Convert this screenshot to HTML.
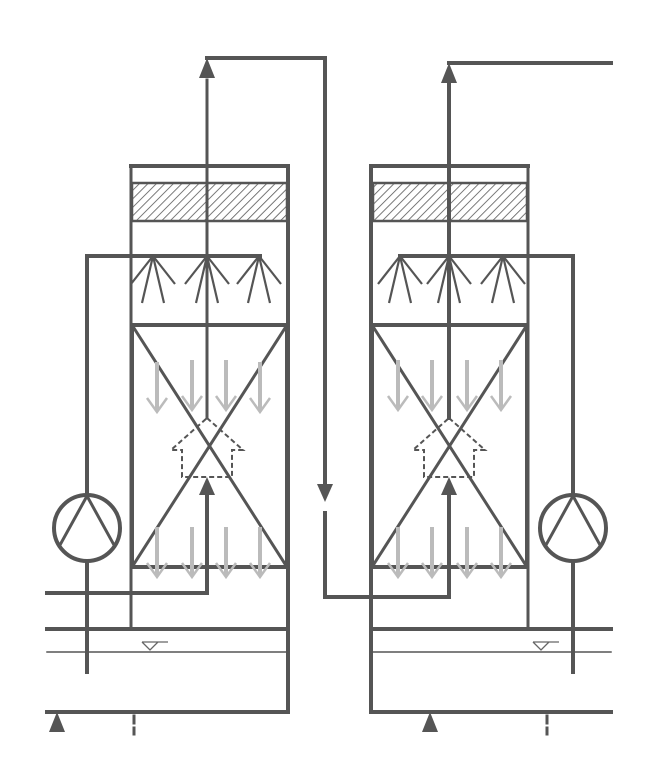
<!DOCTYPE html>
<html><head><meta charset="utf-8"><style>html,body{margin:0;padding:0;background:#fff}svg{display:block}</style></head>
<body>
<svg width="647" height="768" viewBox="0 0 647 768" xmlns="http://www.w3.org/2000/svg">
<defs>
<pattern id="h" width="6" height="6" patternUnits="userSpaceOnUse" patternTransform="rotate(45)">
<rect width="6" height="6" fill="#fff"/><line x1="0" y1="0" x2="0" y2="6" stroke="#555" stroke-width="1.6"/>
</pattern>
<g id="noz" stroke="#555" stroke-width="2.2" fill="none">
<line x1="0" y1="0" x2="-22" y2="28"/><line x1="0" y1="0" x2="-11" y2="47"/>
<line x1="0" y1="0" x2="11" y2="47"/><line x1="0" y1="0" x2="22" y2="28"/>
</g>
<g id="ga" stroke="#bbb" fill="none">
<line x1="0" y1="0" x2="0" y2="48" stroke-width="4"/>
<polyline points="-10,36 0,50 10,36" stroke-width="2.5"/>
</g>
</defs>
<g fill="none" stroke="#555" stroke-linecap="square">
<!-- LEFT TOWER -->
<rect x="132" y="183" width="155" height="38" fill="url(#h)" stroke="#555" stroke-width="2.5"/>
<line x1="131" y1="166" x2="288" y2="166" stroke-width="4"/>
<line x1="131" y1="166" x2="131" y2="629" stroke-width="3"/>
<line x1="288" y1="166" x2="288" y2="712" stroke-width="4"/>
<rect x="132" y="325" width="155" height="242" stroke-width="4"/>
<line x1="132" y1="325" x2="287" y2="567" stroke-width="3"/>
<line x1="287" y1="325" x2="132" y2="567" stroke-width="3"/>
<polyline points="87,496 87,256 260,256" stroke-width="4"/>
<line x1="87" y1="562" x2="87" y2="672" stroke-width="4"/>
<circle cx="87" cy="528" r="33" stroke-width="4"/>
<polyline points="60,545 87,496 114,545" stroke-width="3"/>
<line x1="207" y1="80" x2="207" y2="418" stroke-width="3"/>
<polyline points="207,58 325,58 325,490" stroke-width="4"/>
<polyline points="207,496 207,593 47,593" stroke-width="4"/>
<line x1="47" y1="629" x2="288" y2="629" stroke-width="4"/>
<line x1="47" y1="652" x2="288" y2="652" stroke-width="1.5"/>
<line x1="47" y1="712" x2="288" y2="712" stroke-width="4"/>
<line x1="134" y1="716" x2="134" y2="734" stroke-width="3" stroke-dasharray="7,5"/>
<!-- RIGHT TOWER -->
<rect x="373" y="183" width="154" height="38" fill="url(#h)" stroke="#555" stroke-width="2.5"/>
<line x1="371" y1="166" x2="528" y2="166" stroke-width="4"/>
<line x1="371" y1="166" x2="371" y2="712" stroke-width="4"/>
<line x1="528" y1="166" x2="528" y2="629" stroke-width="3"/>
<rect x="372" y="325" width="155" height="242" stroke-width="4"/>
<line x1="372" y1="325" x2="527" y2="567" stroke-width="3"/>
<line x1="527" y1="325" x2="372" y2="567" stroke-width="3"/>
<polyline points="400,256 573,256 573,496" stroke-width="4"/>
<line x1="573" y1="562" x2="573" y2="672" stroke-width="4"/>
<circle cx="573" cy="528" r="33" stroke-width="4"/>
<polyline points="546,545 573,496 600,545" stroke-width="3"/>
<line x1="449" y1="82" x2="449" y2="418" stroke-width="4"/>
<line x1="449" y1="63" x2="611" y2="63" stroke-width="4"/>
<polyline points="325,513 325,597 449,597 449,496" stroke-width="4"/>
<line x1="371" y1="629" x2="611" y2="629" stroke-width="4"/>
<line x1="371" y1="652" x2="611" y2="652" stroke-width="1.5"/>
<line x1="371" y1="712" x2="611" y2="712" stroke-width="4"/>
<line x1="547" y1="716" x2="547" y2="734" stroke-width="3" stroke-dasharray="7,5"/>
</g>
<!-- nozzles -->
<use href="#noz" x="153" y="256"/><use href="#noz" x="207" y="256"/><use href="#noz" x="259" y="256"/>
<use href="#noz" x="400" y="256"/><use href="#noz" x="449" y="256"/><use href="#noz" x="503" y="256"/>
<!-- grey arrows -->
<use href="#ga" x="157" y="362"/><use href="#ga" x="192" y="360"/><use href="#ga" x="226" y="360"/><use href="#ga" x="260" y="362"/>
<use href="#ga" x="157" y="527"/><use href="#ga" x="192" y="527"/><use href="#ga" x="226" y="527"/><use href="#ga" x="260" y="527"/>
<use href="#ga" x="398" y="360"/><use href="#ga" x="432" y="360"/><use href="#ga" x="467" y="360"/><use href="#ga" x="501" y="360"/>
<use href="#ga" x="398" y="527"/><use href="#ga" x="432" y="527"/><use href="#ga" x="467" y="527"/><use href="#ga" x="501" y="527"/>
<!-- dashed house arrows -->
<polygon points="207,418 243,450 232,450 232,477 182,477 182,450 171,450" fill="none" stroke="#555" stroke-width="2" stroke-dasharray="5,3"/>
<polygon points="449,418 485,450 474,450 474,477 424,477 424,450 413,450" fill="none" stroke="#555" stroke-width="2" stroke-dasharray="5,3"/>
<!-- arrowheads -->
<g fill="#555">
<polygon points="207,58 199,78 215,78"/>
<polygon points="449,63 441,83 457,83"/>
<polygon points="325,502 317,484 333,484"/>
<polygon points="207,477 199,495 215,495"/>
<polygon points="449,477 441,495 457,495"/>
<polygon points="57,712 49,732 65,732"/>
<polygon points="430,712 422,732 438,732"/>
</g>
<!-- water level triangles -->
<g fill="none" stroke="#666" stroke-width="1.3">
<polyline points="142,642 150,650 158,642 142,642 168,642"/>
<polyline points="533,642 541,650 549,642 533,642 559,642"/>
</g>
</svg>
</body></html>
